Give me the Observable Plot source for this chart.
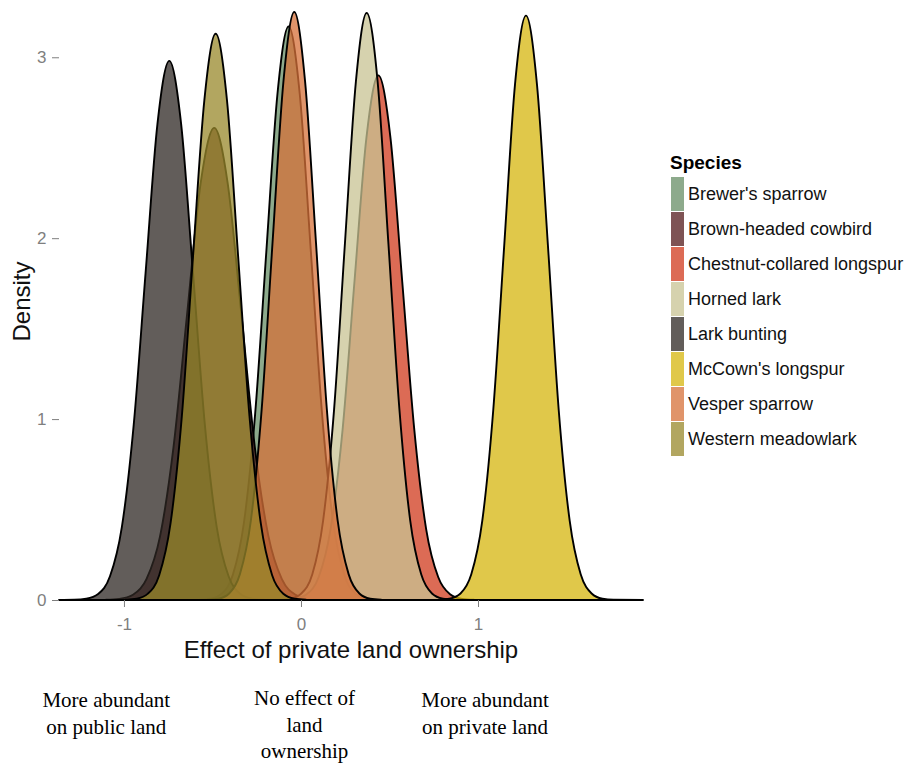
<!DOCTYPE html>
<html>
<head>
<meta charset="utf-8">
<script src="https://cdn.jsdelivr.net/npm/d3@7"></script>
<script src="https://cdn.jsdelivr.net/npm/@observablehq/plot@0.6"></script>
<style>
  html, body { margin: 0; padding: 0; background: #fff; }
  #chart svg { display: block; }
</style>
</head>
<body>
<div id="chart"></div>
<script>
// ---- categories & colours (drawn in this order) ----
const species = ["Brewer's sparrow", "Brown-headed cowbird", "Chestnut-collared longspur", "Horned lark",
  "Lark bunting", "McCown's longspur", "Vesper sparrow", "Western meadowlark"];
const speciesColors = ["#678E66", "#531A1B", "#D03A1C", "#C8C393", "#2E2723", "#D6B60E", "#D67038", "#98882B"];

// ---- density curves (x = effect, y = density) ----
const brewersX = [-0.574, -0.511, -0.448, -0.385, -0.322, -0.259, -0.196, -0.133, -0.07, -0.007, 0.056, 0.119, 0.182, 0.245, 0.308, 0.371, 0.434];
const brewersY = [0.001, 0.007, 0.035, 0.139, 0.429, 1.029, 1.923, 2.797, 3.17, 2.797, 1.923, 1.029, 0.429, 0.139, 0.035, 0.007, 0.001];

const cowbirdX = [-1.102, -1.026, -0.949, -0.873, -0.796, -0.72, -0.643, -0.567, -0.49, -0.414, -0.337, -0.261, -0.184, -0.108, -0.031, 0.046, 0.122];
const cowbirdY = [0.001, 0.006, 0.029, 0.115, 0.353, 0.847, 1.583, 2.303, 2.61, 2.303, 1.583, 0.847, 0.353, 0.115, 0.029, 0.006, 0.001];

const chestnutX = [-0.103, -0.036, 0.032, 0.1, 0.167, 0.235, 0.302, 0.37, 0.437, 0.505, 0.572, 0.64, 0.707, 0.775, 0.842, 0.91, 0.977];
const chestnutY = [0.001, 0.006, 0.032, 0.127, 0.392, 0.942, 1.759, 2.559, 2.9, 2.559, 1.759, 0.942, 0.392, 0.127, 0.032, 0.006, 0.001];

const hornedX = [-0.121, -0.06, 0.002, 0.064, 0.125, 0.187, 0.248, 0.31, 0.371, 0.433, 0.494, 0.556, 0.617, 0.679, 0.74, 0.802, 0.863];
const hornedY = [0.001, 0.007, 0.036, 0.142, 0.439, 1.054, 1.968, 2.864, 3.245, 2.864, 1.968, 1.054, 0.439, 0.142, 0.036, 0.007, 0.001];

const buntingX = [-1.367, -1.28, -1.213, -1.146, -1.079, -1.012, -0.945, -0.878, -0.811, -0.744, -0.677, -0.61, -0.543, -0.476, -0.409, -0.342, -0.275, -0.208];
const buntingY = [0, 0.001, 0.007, 0.033, 0.131, 0.403, 0.968, 1.807, 2.63, 2.98, 2.63, 1.807, 0.968, 0.403, 0.131, 0.033, 0.007, 0.001];

const mccownX = [0.777, 0.839, 0.901, 0.962, 1.024, 1.086, 1.148, 1.209, 1.271, 1.333, 1.395, 1.456, 1.518, 1.58, 1.642, 1.703, 1.765, 1.932];
const mccownY = [0.001, 0.007, 0.036, 0.142, 0.437, 1.049, 1.959, 2.85, 3.23, 2.85, 1.959, 1.049, 0.437, 0.142, 0.036, 0.007, 0.001, 0];

const vesperX = [-0.529, -0.467, -0.406, -0.345, -0.283, -0.222, -0.161, -0.099, -0.038, 0.023, 0.085, 0.146, 0.207, 0.269, 0.33, 0.391, 0.453];
const vesperY = [0.001, 0.007, 0.036, 0.143, 0.44, 1.055, 1.971, 2.868, 3.25, 2.868, 1.971, 1.055, 0.44, 0.143, 0.036, 0.007, 0.001];

const meadowX = [-0.992, -0.928, -0.865, -0.801, -0.737, -0.673, -0.61, -0.546, -0.482, -0.418, -0.355, -0.291, -0.227, -0.163, -0.1, -0.036, 0.028];
const meadowY = [0.001, 0.007, 0.035, 0.137, 0.423, 1.016, 1.898, 2.762, 3.13, 2.762, 1.898, 1.016, 0.423, 0.137, 0.035, 0.007, 0.001];

const curveXs = [brewersX, cowbirdX, chestnutX, hornedX, buntingX, mccownX, vesperX, meadowX];
const curveYs = [brewersY, cowbirdY, chestnutY, hornedY, buntingY, mccownY, vesperY, meadowY];

// ---- ticks & texts ----
const xTicks = [-1, 0, 1];
const yTicks = [0, 1, 2, 3];
const xTitle = "Effect of private land ownership";
const yTitle = "Density";
const legendTitle = "Species";
const notes = [
  {lines: ["More abundant", "on public land"], at: -1.1},
  {lines: ["No effect of", "land", "ownership"], at: 0.02},
  {lines: ["More abundant", "on private land"], at: 1.04}
];

// build long table
const rows = [];
species.forEach((s, i) => {
  curveXs[i].forEach((x, j) => rows.push({species: s, x, y: curveYs[i][j]}));
});

const W = 924, H = 771;
const mL = 59, mR = W - 643, mT = 3, mB = 171;
const sans = "'Liberation Sans', Arial, Helvetica, sans-serif";
const serif = "'Liberation Serif', 'Times New Roman', serif";

const chart = Plot.plot({
  width: W, height: H,
  marginLeft: mL, marginRight: mR, marginTop: mT, marginBottom: mB,
  style: {background: "#fff", fontFamily: sans},
  x: {domain: [-1.367, 1.932]},
  y: {domain: [0, 3.3]},
  color: {domain: species, range: speciesColors},
  marks: [
    Plot.area(rows, {x1: "x", y1: 0, y2: "y", z: "species", fill: "species", fillOpacity: 0.75,
      stroke: "#000", strokeWidth: 1.9, strokeLinejoin: "round", curve: "monotone-x"}),
    Plot.axisY({ticks: yTicks, tickSize: 7, tickPadding: 6, fontSize: 17, color: "#7f7f7f",
      label: null, tickFormat: d => String(d)}),
    Plot.axisX({ticks: xTicks, tickSize: 7, tickPadding: 10, fontSize: 17, color: "#7f7f7f",
      label: null, tickFormat: d => String(d)})
  ]
});

const svg = d3.select(chart);
const xS = chart.scale("x");
const pxX = v => xS.apply(v);

// axis titles
svg.append("text").attr("x", (mL + (W - mR)) / 2).attr("y", 658)
  .attr("text-anchor", "middle").attr("font-family", sans).attr("font-size", 24)
  .attr("fill", "#111").text(xTitle);
svg.append("text").attr("transform", `translate(30,${(mT + H - mB) / 2}) rotate(-90)`)
  .attr("text-anchor", "middle").attr("font-family", sans).attr("font-size", 24)
  .attr("fill", "#111").text(yTitle);

// notes below the axis
const noteBase = [707, 705, 707];
notes.forEach((n, i) => {
  const t = svg.append("text").attr("text-anchor", "middle").attr("font-family", serif)
    .attr("font-size", 21).attr("fill", "#000");
  n.lines.forEach((ln, k) => {
    t.append("tspan").attr("x", pxX(n.at)).attr("y", noteBase[i] + k * 26.5).text(ln);
  });
});

// legend
const lg = svg.append("g").attr("font-family", sans).attr("text-anchor", "start");
lg.append("text").attr("x", 670).attr("y", 169).attr("font-size", 19).attr("font-weight", "bold")
  .attr("fill", "#000").text(legendTitle);
species.forEach((s, i) => {
  const y0 = 177 + i * 35;
  lg.append("rect").attr("x", 671).attr("y", y0).attr("width", 13).attr("height", 34)
    .attr("fill", speciesColors[i]).attr("fill-opacity", 0.75);
  lg.append("text").attr("x", 688).attr("y", y0 + 17).attr("dy", "0.35em")
    .attr("font-size", 18).attr("fill", "#111").text(s);
});

document.getElementById("chart").appendChild(chart);
</script>
</body>
</html>
